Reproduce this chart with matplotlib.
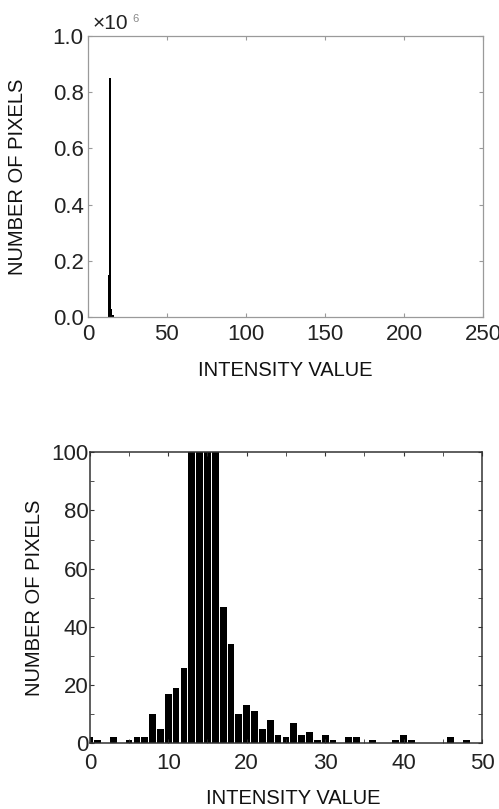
import matplotlib
matplotlib.use('Agg')
import matplotlib.pyplot as plt
from matplotlib.ticker import MultipleLocator, FormatStrFormatter

plt.rcParams['font.family'] = ['Liberation Sans', 'DejaVu Sans']

# histogram counts (intensity 0..48)
intensity = list(range(49))
counts = [2, 1, 0, 2, 0, 1, 2, 2, 10, 5,
          17, 19, 26, 150000, 850000, 30000, 8000, 47, 34, 10,
          13, 11, 5, 8, 3, 2, 7, 3, 4, 1,
          3, 1, 0, 2, 2, 0, 1, 0, 0, 1,
          3, 1, 0, 0, 0, 0, 2, 0, 1]

# nothing visible above intensity 48 in the full histogram
full_intensity = list(range(256))
full_counts = counts + [0] * (256 - len(counts))

fig = plt.figure(figsize=(4.99, 8.09), dpi=100)

# full range histogram
ax1 = fig.add_axes([0.176, 0.608, 0.792, 0.3475])
ax1.bar(full_intensity, [c / 1e6 for c in full_counts], width=1.1, color='black', linewidth=0)
ax1.set_xlim(0, 250)
ax1.set_ylim(0, 1.0)
ax1.xaxis.set_major_locator(MultipleLocator(50))
ax1.yaxis.set_major_locator(MultipleLocator(0.2))
ax1.yaxis.set_major_formatter(FormatStrFormatter('%.1f'))
for s in ax1.spines.values():
    s.set_color('#9a9a9a')
    s.set_linewidth(0.9)
ax1.tick_params(direction='in', length=3, color='#9a9a9a', top=True, right=True,
                labelsize=16, labelcolor='#222222')
ax1.tick_params(axis='y', pad=3)
ax1.tick_params(axis='x', pad=5)
ax1.set_xlabel('INTENSITY VALUE', fontsize=14.5, color='#111111')
ax1.set_ylabel('NUMBER OF PIXELS', fontsize=14.5, color='#111111')
ax1.xaxis.set_label_coords(0.5, -0.19)
ax1.yaxis.set_label_coords(-0.178, 0.5)
ax1.xaxis.label.set_va('center')
ax1.yaxis.label.set_va('center')
ax1.text(0.012, 1.043, '×10', transform=ax1.transAxes, fontsize=15, color='#222222',
         ha='left', va='center')
ax1.text(0.112, 1.06, '6', transform=ax1.transAxes, fontsize=8, color='#888888',
         ha='left', va='center')

# zoom on low intensities
ax2 = fig.add_axes([0.180, 0.0812, 0.786, 0.3598])
ax2.bar(intensity, counts, width=0.86, color='black', linewidth=0)
ax2.set_xlim(0, 50)
ax2.set_ylim(0, 100)
ax2.xaxis.set_major_locator(MultipleLocator(10))
ax2.xaxis.set_minor_locator(MultipleLocator(5))
ax2.yaxis.set_major_locator(MultipleLocator(20))
ax2.yaxis.set_minor_locator(MultipleLocator(10))
for s in ax2.spines.values():
    s.set_color('#333333')
    s.set_linewidth(1.1)
ax2.tick_params(which='both', direction='in', length=3, color='#333333', top=True, right=True)
ax2.tick_params(labelsize=16, labelcolor='#222222')
ax2.tick_params(axis='y', pad=1)
ax2.tick_params(axis='x', pad=7)
ax2.set_xlabel('INTENSITY VALUE', fontsize=14.5, color='#111111')
ax2.set_ylabel('NUMBER OF PIXELS', fontsize=14.5, color='#111111')
ax2.xaxis.set_label_coords(0.518, -0.19)
ax2.yaxis.set_label_coords(-0.14, 0.5)
ax2.xaxis.label.set_va('center')
ax2.yaxis.label.set_va('center')

fig.savefig('out.png', dpi=100)
